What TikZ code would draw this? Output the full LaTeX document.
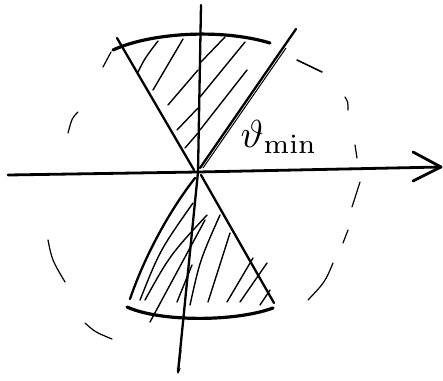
\documentclass[tikz,border=0pt]{standalone}
\usetikzlibrary{arrows.meta}
\begin{document}
\begin{tikzpicture}[x=1pt,y=-1pt,
  axis/.style={line width=2.8pt,line cap=round},
  edge/.style={line width=2.3pt,line cap=round},
  rim/.style={line width=3.2pt,line cap=round},
  hatch/.style={line width=1.4pt,line cap=round},
  faint/.style={line width=1.2pt,line cap=round}]
\useasboundingbox (0,0) rectangle (443,380);
\coordinate (O) at (198,172);
% axes
\draw[axis] (8,175) -- (O) -- (441,167);
\draw[axis,line join=round] (413,152) -- (441,167) -- (413,181);
\draw[edge] (201,5) -- (O) -- (178,372);
\draw[line width=1.2pt,-{Stealth[length=6pt,width=4pt]}] (181,350) -- (178,374);
% upper cone
\draw[edge] (117,38) -- (194,170);
\draw[edge] (296,29) -- (200,168);
\draw[line width=1pt] (286,48) -- (203,168);
\draw[rim] (113,50) .. controls (150,33) and (220,28) .. (270,43);
\draw[faint] (103,67) -- (111,52);
% upper hatching
\draw[hatch] (138,72) .. controls (145,58) .. (158,41);
\draw[hatch] (153,90) -- (183,39);
\draw[hatch] (168,105) -- (198,70);
\draw[hatch] (200,63) -- (225,37);
\draw[hatch] (177,130) -- (198,108);
\draw[hatch] (200,97) -- (245,42);
\draw[hatch] (185,148) -- (198,133);
\draw[hatch] (200,130) -- (247,70);
% lower cone
\draw[edge] (195,178) .. controls (170,210) and (145,255) .. (130,299);
\draw[edge] (201,175) -- (274,303);
\draw[rim] (127,307) .. controls (160,322) and (235,322) .. (273,308);
% lower hatching
\draw[hatch] (140,300) .. controls (160,250) .. (193,203);
\draw[hatch] (145,300) .. controls (170,255) .. (207,215);
\draw[hatch] (150,322) -- (205,220);
\draw[hatch] (177,302) -- (192,265);
\draw[hatch] (190,305) .. controls (200,260) .. (220,215);
\draw[hatch] (208,302) -- (230,233);
\draw[hatch] (227,302) -- (253,258);
\draw[hatch] (240,302) -- (267,263);
\draw[hatch] (260,305) -- (270,290);
% dashed outline
\draw[faint] (78,112) .. controls (72,118) .. (68,133);
\draw[faint] (48,240) .. controls (52,260) .. (65,282);
\draw[faint] (85,323) .. controls (95,332) .. (112,339);
\draw[line width=1.6pt,line cap=round] (297,60) -- (322,72);
\draw[faint] (345,97) .. controls (348,102) .. (348,110);
\draw[faint] (355,145) -- (357,158);
\draw[faint] (360,182) -- (352,207);
\draw[faint] (348,230) -- (343,243);
\draw[faint] (333,263) .. controls (325,282) .. (308,300);
% label
\node[scale=3.9] (lab) at (279,137) {$\vartheta_{\mathrm{min}}$};
\end{tikzpicture}
\end{document}
